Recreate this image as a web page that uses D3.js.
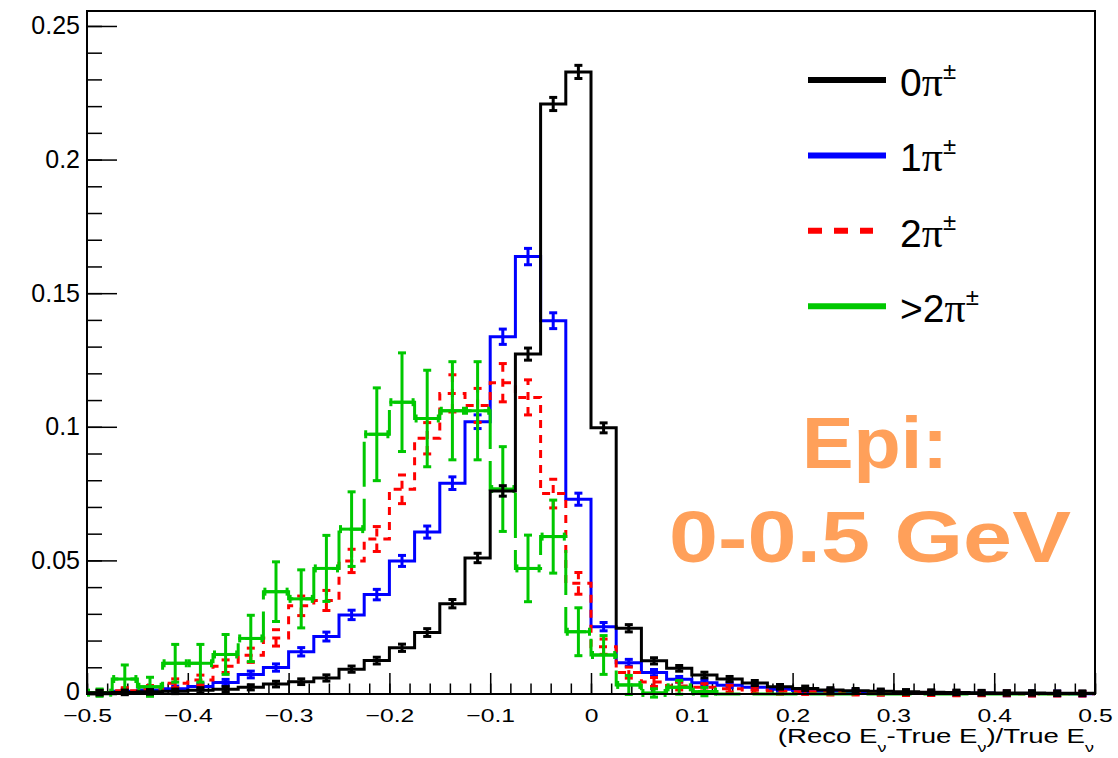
<!DOCTYPE html>
<html>
<head>
<meta charset="utf-8">
<script src="https://cdn.jsdelivr.net/npm/d3@7"></script>
<style>
body { margin: 0; background: #fff; }
svg { display: block; background: #fff; }
text { font-family: "Liberation Sans", Arial, sans-serif; fill: #000; }
</style>
</head>
<body>
<svg id="chart" width="1118" height="758"></svg>
<script>
'use strict';

// 40 bins of 0.025 from -0.5 to 0.5
var binEdges = d3.range(41).map(function (i) { return Math.round((-0.5 + i * 0.025) * 1000) / 1000; });

// 0 pi+- (black)
var zeroPi = [0.0005, 0.0006, 0.0008, 0.001, 0.0014, 0.0018, 0.0025, 0.0037, 0.0046, 0.006,
  0.0093, 0.0125, 0.0173, 0.023, 0.0338, 0.0509, 0.076, 0.1272, 0.2208, 0.2328,
  0.0996, 0.0246, 0.0124, 0.0096, 0.0071, 0.0056, 0.0041, 0.0027, 0.0021, 0.0015,
  0.0012, 0.001, 0.0008, 0.0007, 0.0006, 0.0005, 0.0004, 0.0004, 0.0003, 0.0003];
var zeroPiErr = [0.0003, 0.0003, 0.0003, 0.0003, 0.0004, 0.0004, 0.0004, 0.0005, 0.0005, 0.0006,
  0.0006, 0.0007, 0.0008, 0.0009, 0.001, 0.0012, 0.0014, 0.0017, 0.0019, 0.0019,
  0.0013, 0.0008, 0.0006, 0.0005, 0.0005, 0.0004, 0.0004, 0.0003, 0.0003, 0.0003,
  0.0003, 0.0003, 0.0003, 0.0003, 0.0003, 0.0003, 0.0003, 0.0003, 0.0003, 0.0003];

// 1 pi+- (blue)
var onePi = [0.0006, 0.001, 0.0015, 0.002, 0.0028, 0.0043, 0.0073, 0.0099, 0.0158, 0.0215,
  0.0296, 0.0372, 0.0498, 0.0606, 0.0789, 0.1019, 0.1337, 0.1637, 0.1397, 0.0729,
  0.0252, 0.0117, 0.008, 0.0055, 0.0042, 0.0033, 0.0025, 0.0018, 0.0013, 0.001,
  0.0008, 0.0006, 0.0005, 0.0004, 0.0003, 0.0003, 0.0002, 0.0002, 0.0002, 0.0001];
var onePiErr = [0.0003, 0.0003, 0.0004, 0.0004, 0.0005, 0.0006, 0.0007, 0.0008, 0.001, 0.0011,
  0.0012, 0.0014, 0.0015, 0.0017, 0.0018, 0.002, 0.0023, 0.0025, 0.0024, 0.0017,
  0.001, 0.0007, 0.0006, 0.0005, 0.0004, 0.0004, 0.0003, 0.0003, 0.0003, 0.0003,
  0.0003, 0.0003, 0.0003, 0.0003, 0.0003, 0.0003, 0.0003, 0.0003, 0.0003, 0.0003];

// 2 pi+- (red, dashed)
var twoPi = [0.0005, 0.0012, 0.0018, 0.004, 0.0052, 0.0104, 0.0145, 0.021, 0.033, 0.035,
  0.0498, 0.058, 0.0766, 0.0957, 0.1125, 0.108, 0.1165, 0.111, 0.075, 0.0414,
  0.0177, 0.008, 0.0045, 0.003, 0.0025, 0.002, 0.0015, 0.001, 0.0008, 0.0006,
  0.0005, 0.0004, 0.0003, 0.0003, 0.0002, 0.0002, 0.0002, 0.0001, 0.0001, 0.0001];
var twoPiErr = [0.0004, 0.0006, 0.0008, 0.0011, 0.0013, 0.0018, 0.0021, 0.0025, 0.0031, 0.0032,
  0.0038, 0.0041, 0.0048, 0.0053, 0.0064, 0.0058, 0.0066, 0.006, 0.0048, 0.0035,
  0.0023, 0.0015, 0.0011, 0.0009, 0.0008, 0.0007, 0.0006, 0.0005, 0.0004, 0.0004,
  0.0003, 0.0003, 0.0003, 0.0003, 0.0003, 0.0003, 0.0003, 0.0003, 0.0003, 0.0003];

// >2 pi+- (green)
var morePi = [0.0005, 0.0056, 0.0027, 0.0115, 0.0115, 0.0148, 0.0208, 0.0383, 0.0356, 0.047,
  0.0617, 0.0972, 0.1092, 0.1031, 0.106, 0.106, 0.0767, 0.047, 0.0589, 0.0233,
  0.0146, 0.0034, 0.0004, 0.0025, 0.0009, 0, 0, 0, 0, 0,
  0, 0, 0, 0, 0, 0, 0, 0, 0, 0];
var morePiErr = [0.0008, 0.0047, 0.003, 0.0065, 0.0065, 0.0069, 0.0081, 0.0106, 0.0103, 0.0118,
  0.0134, 0.0168, 0.0179, 0.0175, 0.0178, 0.0178, 0.0153, 0.0119, 0.0131, 0.0084,
  0.0067, 0.003, 0.001, 0.002, 0.001, 0, 0, 0, 0, 0,
  0, 0, 0, 0, 0, 0, 0, 0, 0, 0];

// tick values
var xTickValues = [-0.5, -0.4, -0.3, -0.2, -0.1, 0, 0.1, 0.2, 0.3, 0.4, 0.5];
var yTickValues = [0, 0.05, 0.1, 0.15, 0.2, 0.25];
var legendLabels = ['0', '1', '2', '>2'];

var svg = d3.select('#chart');

var x = d3.scaleLinear().domain([-0.5, 0.5]).range([87, 1095]);
var y = d3.scaleLinear().domain([0, 0.2556]).range([694, 11]);

//Build series table (drawing order: blue, red, green, black on top)
var series = [
  { name: '1', vals: onePi, errs: onePiErr, color: '#0000ff', dash: null, xerr: false },
  { name: '2', vals: twoPi, errs: twoPiErr, color: '#ff0000', dash: '8,7', xerr: false },
  { name: '>2', vals: morePi, errs: morePiErr, color: '#00c800', dash: '45,12', xerr: true },
  { name: '0', vals: zeroPi, errs: zeroPiErr, color: '#000000', dash: null, xerr: false }
];

//************************************************
//**Axes******************************************
//************************************************

var xMinor = d3.range(51).map(function (i) { return Math.round((-0.5 + i * 0.02) * 100) / 100; });
var yMinor = d3.range(26).map(function (i) { return Math.round(i * 0.01 * 100) / 100; });

function cleanAxis(g) {
  g.select('.domain').remove();
  g.selectAll('line').attr('stroke', '#000').attr('stroke-width', 1.5);
}

svg.append('g').attr('transform', 'translate(0,694)')
  .call(d3.axisBottom(x).tickValues(xMinor).tickSize(-10.5).tickFormat(''))
  .call(cleanAxis);

var xAxis = svg.append('g').attr('transform', 'translate(0,694)')
  .call(d3.axisBottom(x).tickValues(xTickValues).tickSize(-21).tickPadding(15)
    .tickFormat(function (d) { return d === 0 ? '0' : d3.format('')(d); }))
  .call(cleanAxis);
xAxis.selectAll('text').attr('font-size', 19).attr('font-family', 'Liberation Sans')
  .attr('transform', 'scale(1.3,1)');

svg.append('g').attr('transform', 'translate(87,0)')
  .call(d3.axisLeft(y).tickValues(yMinor).tickSize(-15).tickFormat(''))
  .call(cleanAxis);

var yAxis = svg.append('g').attr('transform', 'translate(87,0)')
  .call(d3.axisLeft(y).tickValues(yTickValues).tickSize(-30).tickPadding(7)
    .tickFormat(function (d) { return d === 0 ? '0' : d3.format('')(d); }))
  .call(cleanAxis);
yAxis.selectAll('text').attr('font-size', 25).attr('font-family', 'Liberation Sans');
//lift the "0" label a little so it clears the x labels
yAxis.selectAll('text').filter(function (d) { return d === 0; }).attr('y', -2.5);

//************************************************
//**Histograms************************************
//************************************************

var stepLine = d3.line()
  .x(function (d) { return x(d[0]); })
  .y(function (d) { return y(d[1]); })
  .curve(d3.curveStepAfter);

function stepPoints(vals) {
  var pts = vals.map(function (v, i) { return [binEdges[i], v]; });
  pts.push([binEdges[vals.length], vals[vals.length - 1]]);
  return pts;
}

var cap = 4;

series.forEach(function (s) {
  var g = svg.append('g').attr('class', 'series');

  g.append('path')
    .attr('d', stepLine(stepPoints(s.vals)))
    .attr('fill', 'none')
    .attr('stroke', s.color)
    .attr('stroke-width', 3)
    .attr('stroke-dasharray', s.dash);

  var bins = s.vals.map(function (v, i) {
    return { lo: binEdges[i], hi: binEdges[i + 1], v: v, e: s.errs[i] };
  }).filter(function (d) { return d.v > 0; });

  var eb = g.selectAll('.err').data(bins).enter().append('g').attr('class', 'err')
    .attr('stroke', s.color).attr('stroke-width', 3)
    .attr('stroke-dasharray', s.name === '2' ? s.dash : null);

  function cx(d) { return x((d.lo + d.hi) / 2); }

  //vertical error
  eb.append('line')
    .attr('x1', cx).attr('x2', cx)
    .attr('y1', function (d) { return y(d.v - d.e) + 1.5; })
    .attr('y2', function (d) { return y(d.v + d.e) - 1.5; });
  //caps
  eb.append('line')
    .attr('x1', function (d) { return cx(d) - cap; }).attr('x2', function (d) { return cx(d) + cap; })
    .attr('y1', function (d) { return y(d.v + d.e) - 1.5; })
    .attr('y2', function (d) { return y(d.v + d.e) - 1.5; });
  eb.append('line')
    .attr('x1', function (d) { return cx(d) - cap; }).attr('x2', function (d) { return cx(d) + cap; })
    .attr('y1', function (d) { return y(d.v - d.e) + 1.5; })
    .attr('y2', function (d) { return y(d.v - d.e) + 1.5; });

  if (s.xerr) {
    eb.append('line')
      .attr('x1', function (d) { return x(d.lo); }).attr('x2', function (d) { return x(d.hi); })
      .attr('y1', function (d) { return y(d.v); }).attr('y2', function (d) { return y(d.v); });
    eb.append('line')
      .attr('x1', function (d) { return x(d.lo) + 1.5; }).attr('x2', function (d) { return x(d.lo) + 1.5; })
      .attr('y1', function (d) { return y(d.v) - cap; }).attr('y2', function (d) { return y(d.v) + cap; });
    eb.append('line')
      .attr('x1', function (d) { return x(d.hi) - 1.5; }).attr('x2', function (d) { return x(d.hi) - 1.5; })
      .attr('y1', function (d) { return y(d.v) - cap; }).attr('y2', function (d) { return y(d.v) + cap; });
  }
});

//Frame
svg.append('rect')
  .attr('x', 87).attr('y', 11).attr('width', 1008).attr('height', 683)
  .attr('fill', 'none').attr('stroke', '#000').attr('stroke-width', 2);

//************************************************
//**Axis title************************************
//************************************************

var title = svg.append('g').attr('transform', 'translate(1094,743) scale(1.38,1)')
  .append('text').attr('text-anchor', 'end').attr('font-size', 20);
var titleParts = [['(Reco E', 0, 20], ['ν', 9, 13], ['-True E', -9, 20], ['ν', 9, 13], [')/True E', -9, 20], ['ν', 9, 13]];
titleParts.forEach(function (p) {
  title.append('tspan').attr('dy', p[1]).attr('font-size', p[2]).text(p[0]);
});

//************************************************
//**Legend****************************************
//************************************************

var legendColors = { '0': '#000000', '1': '#0000ff', '2': '#ff0000', '>2': '#00c800' };
var legend = svg.append('g').attr('class', 'legend');

legendLabels.forEach(function (lab, i) {
  var ly = 80 + i * 75.4;
  legend.append('line')
    .attr('x1', 808).attr('x2', lab === '2' ? 873 : 886)
    .attr('y1', ly).attr('y2', ly)
    .attr('stroke', legendColors[lab]).attr('stroke-width', 6)
    .attr('stroke-dasharray', lab === '2' ? '14,12' : null);

  var t = legend.append('text').attr('x', 900).attr('y', ly + 16).attr('font-size', 39);
  t.append('tspan').text(lab);
  t.append('tspan').attr('font-family', 'Liberation Serif').attr('font-size', 42).text('π');
  t.append('tspan').attr('font-size', 24).attr('dy', -17).text('±');
});

//************************************************
//**Energy range label****************************
//************************************************

var orange = '#ffa05a';
svg.append('text').attr('x', 875).attr('y', 468).attr('text-anchor', 'middle')
  .attr('font-family', 'DejaVu Sans').attr('font-weight', 'bold').attr('font-size', 72)
  .attr('textLength', 146).attr('lengthAdjust', 'spacingAndGlyphs')
  .style('fill', orange).text('Epi:');
svg.append('text').attr('x', 870).attr('y', 562).attr('text-anchor', 'middle')
  .attr('font-family', 'DejaVu Sans').attr('font-weight', 'bold').attr('font-size', 72)
  .attr('textLength', 402).attr('lengthAdjust', 'spacingAndGlyphs')
  .style('fill', orange).text('0-0.5 GeV');
</script>
</body>
</html>
